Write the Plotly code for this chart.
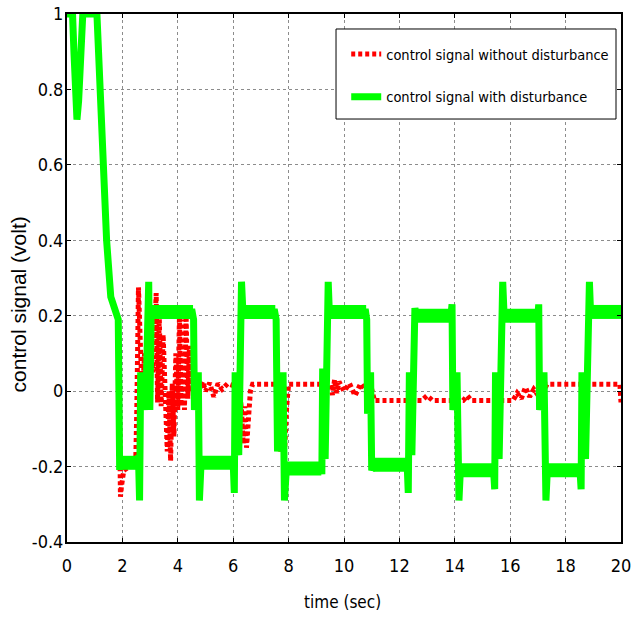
import plotly.graph_objects as go

# ---------------- data ----------------
# green: control signal with disturbance (time in s, value in V)
green_t = [0.0, 0.2, 0.25, 0.3, 0.36, 0.42, 0.5, 0.57, 1.08, 1.19, 1.29, 1.43, 1.58, 1.7, 1.85, 1.9,
           1.95, 2.2, 2.4, 2.58, 2.62, 2.66, 2.7, 2.78, 2.84, 2.95, 2.99, 3.04, 4.52,
           4.57, 4.6, 4.74, 4.78, 4.84, 6.0,
           6.04, 6.07, 6.2, 6.3, 6.35, 7.5,
           7.55, 7.6, 7.8, 7.85, 7.92, 9.18,
           9.2, 9.23, 9.32, 9.43, 9.47, 10.78,
           10.82, 10.85, 10.96, 11.0, 11.05, 12.28,
           12.32, 12.36, 12.45, 12.56, 12.62, 13.86,
           13.9, 13.93, 14.08, 14.15, 14.2, 15.4,
           15.44, 15.47, 15.6, 15.73, 15.78, 17.0,
           17.03, 17.06, 17.22, 17.29, 17.34, 18.52,
           18.56, 18.59, 18.72, 18.86, 18.9, 20.0]
green_v = [1.0, 1.0, 0.9, 0.78, 0.72, 0.77, 0.9, 1.0, 1.0, 0.8, 0.6, 0.4, 0.25, 0.22, 0.19, -0.2,
           -0.2, -0.19, -0.19, -0.175, -0.29, 0.05, -0.04, 0.045, -0.05, 0.29, -0.05, 0.21, 0.21,
           0.19, -0.05, 0.05, -0.29, -0.19, -0.19,
           -0.27, 0.05, -0.17, 0.29, 0.21, 0.21,
           0.19, -0.16, 0.05, -0.29, -0.205, -0.205,
           -0.22, 0.06, -0.18, 0.29, 0.21, 0.21,
           0.19, -0.06, 0.05, -0.21, -0.2, -0.195,
           -0.27, 0.05, -0.17, 0.22, 0.2, 0.2,
           0.23, -0.05, 0.05, -0.29, -0.21, -0.21,
           -0.26, 0.05, -0.18, 0.29, 0.2, 0.2,
           0.23, -0.05, 0.05, -0.29, -0.21, -0.21,
           -0.26, 0.05, -0.18, 0.29, 0.21, 0.205]

# noisy plateaus of the green signal (start, end, level)
plateau_start = [1.95, 3.04, 4.84, 6.35, 7.92, 9.47, 11.05, 12.62, 14.2, 15.78, 17.34, 18.9]
plateau_end = [2.56, 4.55, 6.0, 7.52, 9.18, 10.8, 12.28, 13.88, 15.4, 17.0, 18.52, 20.0]
plateau_level = [-0.19, 0.21, -0.19, 0.21, -0.205, 0.21, -0.195, 0.2, -0.21, 0.2, -0.21, 0.21]

# red: control signal without disturbance
red_t = [0.0, 0.2, 0.25, 0.3, 0.36, 0.42, 0.5, 0.57, 1.08, 1.19, 1.29, 1.43, 1.58, 1.7, 1.85,
         1.9, 1.93, 1.97, 2.05, 2.3, 2.48, 2.52, 2.58, 2.65, 2.72, 2.8, 2.9, 3.0, 3.1,
         3.22, 3.27, 3.33, 3.4, 3.47, 3.55, 3.62, 3.68, 3.74, 3.8, 3.86, 3.93, 4.0,
         4.06, 4.12, 4.18, 4.24, 4.3, 4.36, 4.42, 4.5, 4.6,
         4.8, 4.9, 5.0, 5.15, 5.3, 5.45, 5.6, 5.8, 6.0, 6.2,
         6.3, 6.36, 6.42, 6.48, 6.55, 6.62, 6.7, 7.6,
         7.65, 7.72, 7.8, 7.86, 7.93, 8.0, 9.5,
         9.58, 9.66, 9.74, 9.82, 10.0, 10.2, 10.4, 10.6, 10.8, 10.95, 11.1,
         12.8, 13.0, 13.2, 14.3, 14.45, 14.6, 16.1,
         16.25, 16.4, 16.55, 16.7, 16.85, 17.0, 17.2, 17.33, 19.96, 20.0]
red_v = [1.0, 1.0, 0.9, 0.78, 0.72, 0.77, 0.9, 1.0, 1.0, 0.8, 0.6, 0.4, 0.25, 0.22, 0.19,
         -0.1, -0.28, -0.25, -0.21, -0.2, -0.19, -0.05, 0.275, 0.12, -0.02, 0.1, 0.0, 0.12, 0.05,
         0.26, -0.03, 0.2, -0.04, 0.15, 0.0, -0.16, 0.0, -0.185, 0.02, -0.12, 0.1, -0.05,
         0.2, -0.04, 0.19, -0.05, 0.2, -0.02, 0.12, 0.0, 0.02,
         0.01, 0.026, 0.0, 0.022, -0.015, 0.02, 0.005, 0.02, 0.015, 0.02,
         -0.05, -0.14, -0.04, -0.15, -0.06, 0.0, 0.018, 0.018,
         -0.1, -0.16, -0.05, -0.15, -0.04, 0.018, 0.018,
         -0.01, 0.03, -0.005, 0.025, 0.0, 0.02, -0.012, 0.02, 0.0, 0.02, -0.025,
         -0.025, -0.012, -0.025, -0.025, -0.012, -0.025, -0.025,
         -0.005, -0.02, 0.01, -0.015, 0.005, -0.01, 0.0, 0.018, 0.018, -0.03]

x_tickvals = [0, 2, 4, 6, 8, 10, 12, 14, 16, 18, 20]
x_ticktext = ["0", "2", "4", "6", "8", "10", "12", "14", "16", "18", "20"]
y_tickvals = [-0.4, -0.2, 0, 0.2, 0.4, 0.6, 0.8, 1.0]
y_ticktext = ["-0.4", "-0.2", "0", "0.2", "0.4", "0.6", "0.8", "1"]

# ---------------- figure ----------------
NARROW = "DejaVu Sans Condensed, Liberation Sans Narrow, Arial Narrow, sans-serif"
RED = "#ff0000"
GREEN = "#00ff00"

band_x, band_y = [], []
for s, e, lv in zip(plateau_start, plateau_end, plateau_level):
    band_x += [s, e, None]
    band_y += [lv, lv, None]

fig = go.Figure()
fig.add_trace(go.Scatter(x=red_t, y=red_v, mode="lines", name="control signal without disturbance",
                         line=dict(color=RED, width=5, dash="4px,3px"), legendgroup="a"))
fig.add_trace(go.Scatter(x=green_t, y=green_v, mode="lines", name="control signal with disturbance",
                         line=dict(color=GREEN, width=7), legendgroup="b"))
fig.add_trace(go.Scatter(x=band_x, y=band_y, mode="lines", showlegend=False, hoverinfo="skip",
                         line=dict(color=GREEN, width=14), legendgroup="b"))

axis_common = dict(showline=True, linecolor="black", linewidth=2, mirror="ticks",
                   ticks="inside", ticklen=4, tickcolor="black",
                   showgrid=True, gridcolor="#8c8c8c", gridwidth=1, griddash="dot",
                   zeroline=False, automargin=False, ticklabeloverflow="allow",
                   tickfont=dict(family=NARROW, size=18, color="black"))

fig.update_layout(
    width=642, height=622,
    margin=dict(l=67, r=21, t=14, b=80, autoexpand=False),
    paper_bgcolor="white", plot_bgcolor="white",
    showlegend=True,
    shapes=[dict(type="rect", xref="paper", yref="paper", x0=0.4856, x1=0.991,
                 y0=0.8011, y1=0.9716, fillcolor="white", line=dict(color="black", width=1),
                 layer="above")],
    legend=dict(x=0.504, y=0.9545, xanchor="left", yanchor="top",
                bgcolor="rgba(0,0,0,0)", borderwidth=0,
                font=dict(family=NARROW, size=14.5, color="black"),
                tracegroupgap=21, traceorder="grouped"),
    xaxis=dict(range=[0, 20], tickvals=x_tickvals, ticktext=x_ticktext,
               ticklabelstandoff=6, **axis_common),
    yaxis=dict(range=[-0.4, 1.0], tickvals=y_tickvals, ticktext=y_ticktext,
               ticklabelstandoff=-2, **axis_common),
    annotations=[
        dict(text="time (sec)", xref="paper", yref="paper", x=0.4964, y=-0.114,
             xanchor="center", yanchor="middle", showarrow=False,
             font=dict(family=NARROW, size=17, color="black")),
        dict(text="control signal (volt)", xref="paper", yref="paper", x=-0.0875, y=0.449,
             xanchor="center", yanchor="middle", textangle=-90, showarrow=False,
             font=dict(family="Liberation Sans, Arial, sans-serif", size=21, color="black")),
    ],
)

# remove the default 8 px page margin so the figure fills the 642x622 window
fig.write_html("out.html", config={"displayModeBar": False},
               post_script="document.body.style.margin='0';")
